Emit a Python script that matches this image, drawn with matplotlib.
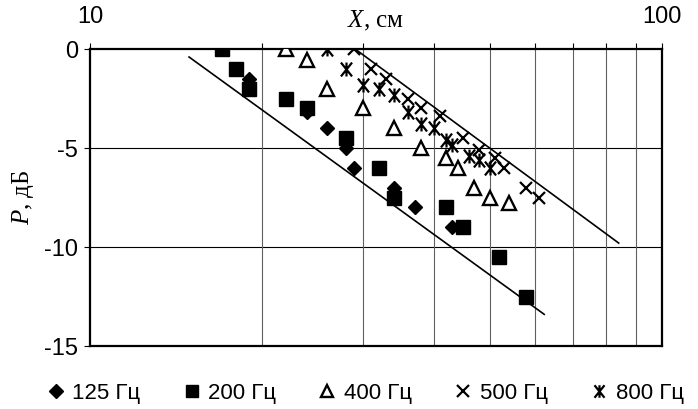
import matplotlib
matplotlib.use("Agg")
import matplotlib.pyplot as plt
from matplotlib.path import Path
from matplotlib.ticker import FixedLocator, NullFormatter

# data
f125_x = [19, 24, 26, 28, 29, 34, 37, 43]
f125_y = [-1.5, -3.2, -4.0, -5.0, -6.0, -7.0, -8.0, -9.0]
f200_x = [17, 18, 19, 22, 24, 28, 32, 34, 42, 45, 52, 58]
f200_y = [0, -1.0, -2.0, -2.5, -3.0, -4.5, -6.0, -7.5, -8.0, -9.0, -10.5, -12.5]
f400_x = [22, 24, 26, 30, 34, 38, 42, 44, 47, 50, 54]
f400_y = [0, -0.55, -2.0, -3.0, -4.0, -5.0, -5.5, -6.0, -7.0, -7.5, -7.8]
f500_x = [29, 31, 33, 36, 38, 41, 45, 48, 51, 53, 58, 61]
f500_y = [0, -1.0, -1.5, -2.5, -3.0, -3.4, -4.5, -5.1, -5.5, -6.0, -7.0, -7.5]
f800_x = [26, 28, 30, 32, 34, 36, 38, 40, 42, 43, 46, 48, 50]
f800_y = [0, -1.0, -1.8, -2.0, -2.3, -3.2, -3.8, -4.0, -4.6, -4.85, -5.4, -5.6, -6.0]

low_x = [14.9, 62.3]
low_y = [-0.4, -13.4]
high_x = [29.1, 84.1]
high_y = [0, -9.8]

labels = ["125 Гц", "200 Гц", "400 Гц", "500 Гц", "800 Гц"]
yticks = [0, -5, -10, -15]

plt.rcParams["font.family"] = ["Liberation Sans", "DejaVu Sans"]
plt.rcParams["mathtext.fontset"] = "custom"
plt.rcParams["mathtext.rm"] = "Liberation Serif"
plt.rcParams["mathtext.it"] = "Liberation Serif:italic"

# "ж"-like asterisk marker
zh = Path([(0, -1), (0, 1), (-0.8, -1), (0.8, 1), (-0.8, 1), (0.8, -1)],
          [Path.MOVETO, Path.LINETO, Path.MOVETO, Path.LINETO, Path.MOVETO, Path.LINETO])

fig = plt.figure(figsize=(6.98, 4.09), dpi=100)
ax = fig.add_axes([0.129, 0.154, 0.819, 0.726])

ax.set_xscale("log")
ax.set_xlim(10, 100)
ax.set_ylim(-15, 0)

ax.plot(low_x, low_y, color="black", lw=1.2, zorder=3)
ax.plot(high_x, high_y, color="black", lw=1.2, zorder=3)

ax.plot(f125_x, f125_y, ls="none", marker="D", ms=7.5, color="black", label=labels[0], zorder=4)
ax.plot(f200_x, f200_y, ls="none", marker="s", ms=9.5, color="black", label=labels[1], zorder=4)
ax.plot(f400_x, f400_y, ls="none", marker="^", ms=10, mfc="white", mec="black", mew=1.7,
        label=labels[2], zorder=4)
ax.plot(f500_x, f500_y, ls="none", marker="x", ms=9, mec="black", mew=1.6, label=labels[3], zorder=4)
ax.plot(f800_x, f800_y, ls="none", marker=zh, ms=10, mec="black", mew=1.6, label=labels[4], zorder=4)

# grid
ax.xaxis.set_minor_locator(FixedLocator([20, 30, 40, 50, 60, 70, 80, 90]))
ax.xaxis.set_major_locator(FixedLocator([10, 100]))
ax.xaxis.set_minor_formatter(NullFormatter())
ax.set_xticklabels(["10", "100"])
ax.grid(True, which="minor", axis="x", color="#606060", lw=0.8)
ax.set_yticks(yticks)
ax.set_yticklabels([str(v) for v in yticks])
for v in [-5, -10]:
    ax.axhline(v, color="black", lw=0.8, zorder=1)

ax.xaxis.tick_top()
ax.tick_params(axis="x", which="both", top=True, bottom=False, direction="out",
               length=4.5, width=0.8, labelsize=17, pad=11)
ax.tick_params(axis="y", direction="out", length=4.5, width=0.8, labelsize=17, pad=4)

for s in ax.spines.values():
    s.set_linewidth(1.6)

ax.text(0.5, 1.072, "$X$, см", transform=ax.transAxes, ha="center", va="baseline",
        fontsize=18, family="Liberation Serif")
ax.text(-0.117, 0.5, "$P$, дБ", transform=ax.transAxes, ha="center", va="center",
        rotation=90, fontsize=18, family="Liberation Serif")

fig.legend(loc="center", bbox_to_anchor=(0.524, 1 - 393 / 409), ncol=5, frameon=False,
           fontsize=16, handlelength=0.7, handletextpad=0.4, columnspacing=1.95,
           markerscale=0.9)

fig.savefig("out.png", dpi=100)
